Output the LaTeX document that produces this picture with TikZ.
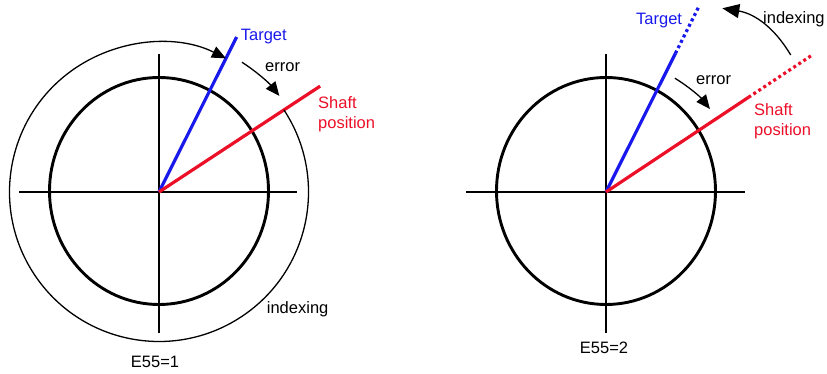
\documentclass[tikz,border=0pt]{standalone}
\usepackage{fontspec}
\setmainfont{Liberation Sans}
\usetikzlibrary{arrows.meta}
\usetikzlibrary{positioning}
\definecolor{tgtblue}{RGB}{25,25,235}
\definecolor{shaftred}{RGB}{235,15,40}
\pgfmathsetmacro{\myrx}{109.5}
\pgfmathsetmacro{\myry}{113.5}
\pgfmathsetmacro{\myro}{149.5}
\pgfmathsetmacro{\mytgt}{63.4}
\pgfmathsetmacro{\mysft}{33.3}
\tikzset{
  axis/.style={line width=2.8pt},
  ring/.style={line width=2.9pt},
  pointer/.style={line width=3.2pt},
  thinarc/.style={line width=1.3pt, -{Triangle[length=14pt,width=12pt]}},
  dots/.style={dash pattern=on 3pt off 3pt},
  lbl/.style={inner sep=0pt, font=\fontsize{16.5}{20}\selectfont}
}

\begin{document}
\begin{tikzpicture}[x=1pt, y=1pt]
\useasboundingbox (0,0) rectangle (827,374);

\begin{scope}[shift={(159,182)}]
\coordinate (lc) at (0,0);
\coordinate (lo) at (0,1);
\coordinate (lw) at (-140,0);
\coordinate (le) at (138,0);
\coordinate (ln) at (0,138);
\coordinate (ls) at (0,-141);
\coordinate (ltgt) at (\mytgt:173.4);
\coordinate (lsft) at (\mysft:192.8);
\draw[ring] (lo) ellipse[x radius=\myrx, y radius=\myry];
\draw[axis] (lw) -- (le);
\draw[axis] (ln) -- (ls);
\draw[pointer, tgtblue] (lc) -- (ltgt);
\draw[pointer, shaftred] (lc) -- (lsft);
\draw[thinarc] (\mysft:\myro) arc[start angle=\mysft, end angle=\mytgt-360, radius=\myro];
\draw[thinarc] (57.4:154) arc[start angle=57.4, end angle=38.6, radius=154];
\end{scope}

\node[lbl, text=tgtblue, right = 4pt of ltgt] (ltgtlbl) {Target};
\node[lbl, anchor=west] (lerr) at (265,307) {error};
\node[lbl, text=shaftred, anchor=north west, align=left] (lsftlbl) at (318,277.3) {Shaft\\position};
\node[lbl, anchor=west] (lidx) at (266.7,65) {indexing};
\node[lbl] (lname) at (155,12) {E55=1};

\begin{scope}[shift={(606,182)}]
\coordinate (rc) at (0,0);
\coordinate (ro) at (0,1);
\coordinate (rw) at (-140,0);
\coordinate (re) at (139,0);
\coordinate (rn) at (0,138);
\coordinate (rs) at (0,-141);
\coordinate (rtgt) at (\mytgt:155);
\coordinate (rtgtx) at (\mytgt:206);
\coordinate (rsft) at (33.6:171);
\coordinate (rsftx) at (33.6:248);
\draw[ring] (ro) ellipse[x radius=\myrx, y radius=\myry];
\draw[axis] (rw) -- (re);
\draw[axis] (rn) -- (rs);
\draw[pointer, tgtblue] (rc) -- (rtgt);
\draw[pointer, tgtblue, dots] (rtgt) -- (rtgtx);
\draw[pointer, shaftred] (rc) -- (rsft);
\draw[pointer, shaftred, dots] (rsft) -- (rsftx);
\draw[thinarc] (58.8:133) arc[start angle=58.8, end angle=38.6, radius=133];
\end{scope}

\coordinate (ridxa) at (790.7,319);
\coordinate (ridxb) at (722.3,365.7);
\draw[thinarc, -{Triangle[length=17pt,width=14pt]}] (ridxa) to[bend right=25] (ridxb);

\node[lbl, text=tgtblue, anchor=west] (rtgtlbl) at (636,353) {Target};
\node[lbl, anchor=west] (rerr) at (696,294) {error};
\node[lbl, text=shaftred, anchor=north west, align=left] (rsftlbl) at (754,270.7) {Shaft\\position};
\node[lbl, anchor=west] (ridx) at (763,355) {indexing};
\node[lbl] (rname) at (604,26) {E55=2};
\end{tikzpicture}
\end{document}
